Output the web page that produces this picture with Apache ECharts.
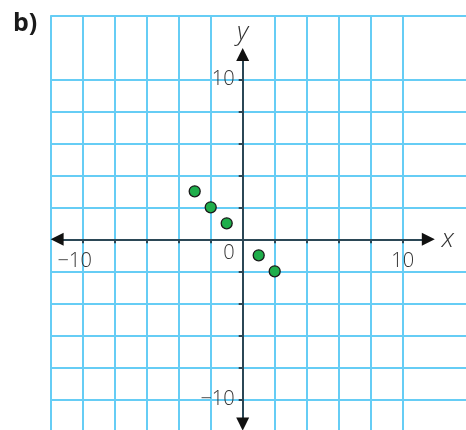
<!DOCTYPE html>
<html>
<head>
<meta charset="utf-8">
<title>b)</title>
<script src="https://cdn.jsdelivr.net/npm/echarts@6/dist/echarts.min.js"></script>
<style>
    html, body { margin: 0; padding: 0; background: #fff; }
    #contain { width: 466px; height: 430px; }
</style>
</head>
<body>
<div id="contain"></div>
<script>
// 点的坐标
var pointsX = [-3, -2, -1, 1, 2];
var pointsY = [3, 2, 1, -1, -2];
// 坐标轴刻度
var xTicks = [-10, -8, -6, -4, -2, 2, 4, 6, 8, 10];
var yTicks = [-10, -8, -6, -4, -2, 2, 4, 6, 8, 10];
var xLabels = [-10, 10];
var yLabels = [-10, 0, 10];
var axisMin = -12;
var axisMax = 14;
var arrowX = [-11.6, 11.6];
var arrowY = [-11.55, 11.55];

var gridColor = '#66cdf5';
var axisColor = '#2b4756';
var textColor = '#333';

var data = [];
for (var i = 0; i < pointsX.length; i++) {
    data.push([pointsX[i], pointsY[i]]);
}

var option = {
    animation: false,
    title: {
        text: 'b)',
        left: 8,
        top: 6,
        textStyle: {
            fontFamily: 'Open Sans',
            fontWeight: 'bold',
            fontSize: 25,
            color: '#1a1a1a'
        }
    },
    grid: {
        left: 50.7,
        top: 15.3,
        width: 416,
        height: 416,
        outerBoundsMode: 'none',
        containLabel: false
    },
    xAxis: {
        type: 'value',
        min: axisMin,
        max: axisMax,
        interval: 2,
        // 16px 一格, 0 在 y=14 下 14 格处
        offset: -192,
        name: 'x',
        nameLocation: 'end',
        nameGap: -25,
        nameTextStyle: {
            fontFamily: 'Open Sans',
            fontStyle: 'italic',
            fontWeight: 300,
            fontSize: 26,
            color: textColor
        },
        // 线本身由 markLine 画
        axisLine: { show: false, onZero: false },
        axisTick: {
            show: true,
            customValues: xTicks,
            length: 4,
            lineStyle: { color: axisColor, width: 2 }
        },
        axisLabel: {
            customValues: xLabels,
            margin: 12,
            fontFamily: 'Open Sans',
            fontWeight: 300,
            fontSize: 20,
            color: textColor,
            formatter: function (v) {
                if (v < 0) {
                    return '{m|−}{n|' + Math.abs(v) + '}';
                }
                return '' + v;
            },
            rich: {
                m: { fontFamily: 'Open Sans', fontWeight: 300, fontSize: 20, color: textColor },
                n: { fontFamily: 'Open Sans', fontWeight: 300, fontSize: 20, color: textColor, padding: [0, 16, 0, 0] }
            }
        },
        splitLine: {
            show: true,
            lineStyle: { color: gridColor, width: 2 }
        }
    },
    yAxis: {
        type: 'value',
        min: axisMin,
        max: axisMax,
        interval: 2,
        offset: -192,
        name: 'y',
        nameLocation: 'end',
        nameGap: -30,
        nameTextStyle: {
            fontFamily: 'Open Sans',
            fontStyle: 'italic',
            fontWeight: 300,
            fontSize: 26,
            color: textColor
        },
        axisLine: { show: false, onZero: false },
        axisTick: {
            show: true,
            customValues: yTicks,
            length: 4,
            lineStyle: { color: axisColor, width: 2 }
        },
        axisLabel: {
            customValues: yLabels,
            margin: 8,
            fontFamily: 'Open Sans',
            fontWeight: 300,
            fontSize: 20,
            color: textColor,
            formatter: function (v) {
                if (v === 0) {
                    return '{z|0}';
                }
                return v < 0 ? '−' + Math.abs(v) : '' + v;
            },
            rich: {
                z: { fontFamily: 'Open Sans', fontWeight: 300, fontSize: 20, color: textColor, padding: [28, 0, 0, 0] }
            }
        },
        splitLine: {
            show: true,
            lineStyle: { color: gridColor, width: 2 }
        }
    },
    series: [{
        type: 'scatter',
        data: data,
        symbol: 'circle',
        symbolSize: 11,
        clip: false,
        z: 5,
        itemStyle: {
            color: '#1fae4b',
            borderColor: '#1a1a1a',
            borderWidth: 1.3,
            opacity: 1
        },
        emphasis: { disabled: true },
        markLine: {
            silent: true,
            symbol: ['none', 'none'],
            label: { show: false },
            lineStyle: { color: axisColor, width: 2, type: 'solid' },
            emphasis: { disabled: true },
            data: [
                // 网格边线 (splitLine 不画边上的两条)
                { xAxis: axisMin, lineStyle: { color: gridColor, width: 2 } },
                { yAxis: axisMax, lineStyle: { color: gridColor, width: 2 } },
                [{ coord: [arrowX[0], 0] }, { coord: [arrowX[1], 0] }],
                [{ coord: [0, arrowY[1]] }, { coord: [0, arrowY[0]] }]
            ]
        },
        // 箭头
        markPoint: {
            silent: true,
            symbol: 'triangle',
            symbolSize: [13, 13],
            label: { show: false },
            itemStyle: { color: '#111', borderWidth: 0 },
            emphasis: { disabled: true },
            data: [
                { coord: [arrowX[1], 0], symbolRotate: -90 },
                { coord: [arrowX[0], 0], symbolRotate: 90 },
                { coord: [0, arrowY[1]], symbolRotate: 0 },
                { coord: [0, arrowY[0]], symbolRotate: 180 }
            ]
        }
    }]
};

var myChart = echarts.init(document.getElementById('contain'));
myChart.setOption(option);
</script>
</body>
</html>
